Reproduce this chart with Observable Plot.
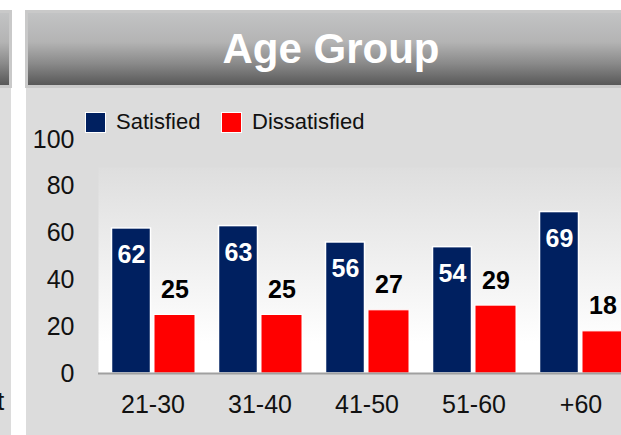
<!DOCTYPE html>
<html>
<head>
<meta charset="utf-8">
<script src="https://cdn.jsdelivr.net/npm/d3@7"></script>
<script src="https://cdn.jsdelivr.net/npm/@observablehq/plot@0.6"></script>
<style>
  html, body { margin: 0; padding: 0; background: #fff; }
  body { width: 621px; height: 435px; overflow: hidden; position: relative; font-family: "Liberation Sans", Arial, sans-serif; }
  .hdr { position: absolute; top: 10px; height: 72px; border: 3px solid #c9c9c9;
         background: linear-gradient(#c2c3c4 0%, #b4b4b4 40%, #8a8a8a 70%, #585858 100%); }
  .body { position: absolute; top: 88px; height: 347px; background: #dcdcdc; }
  #title { position: absolute; left: 25px; width: 612px; top: 13px; text-align: center;
           color: #fff; font-weight: bold; font-size: 42px; line-height: 72px; }
  #chart { position: absolute; left: 0; top: 88px; }
  .leg { position: absolute; top: 109px; font-size: 22px; line-height: 26px; color: #111; display: flex; align-items: center; z-index: 2; }
  .sw { width: 19px; height: 19px; border: 1.5px solid #fff; margin-right: 10px; }
  #lt { position: absolute; left: -3px; top: 386px; font-size: 26px; color: #111; }
</style>
</head>
<body>
<div class="hdr" style="left:-6px; width:12px;"></div>
<div class="body" style="left:0; width:11px;"></div>
<div id="lt">t</div>
<div class="hdr" style="left:25px; width:620px;"></div>
<div class="body" style="left:26px; width:595px;"></div>
<div id="title">Age Group</div>
<div id="chart"></div>
<div id="legend"></div>
<script>
const groups = ["21-30", "31-40", "41-50", "51-60", "+60"];
const satisfied = [62, 63, 56, 54, 69];
const dissatisfied = [25, 25, 27, 29, 18];
const seriesNames = ["Satisfied", "Dissatisfied"];
const seriesColors = ["#002060", "#ff0000"];
const yTicks = [0, 20, 40, 60, 80, 100];

const satData = groups.map((g, i) => ({group: g, value: satisfied[i]}));
const disData = groups.map((g, i) => ({group: g, value: dissatisfied[i]}));

const font = '"Liberation Sans", Arial, sans-serif';

const svg = Plot.plot({
  width: 621,
  height: 347,
  marginLeft: 98,
  marginRight: 0,
  marginTop: 51,
  marginBottom: 62,
  style: {background: "transparent", fontFamily: font, overflow: "hidden"},
  x: {domain: groups, range: [98, 634.5], padding: 0},
  y: {domain: [0, 100]},
  marks: [
    Plot.frame({fill: "url(#plotbg)", stroke: null, insetTop: 28}),
    Plot.axisY({ticks: yTicks, tickSize: 0, tickPadding: 24, fontSize: 25, fill: "#111", label: null}),
    Plot.axisX({tickSize: 0, tickPadding: 22, fontSize: 25, fill: "#111", label: null}),
    Plot.barY(satData, {x: "group", y: "value", fill: seriesColors[0], stroke: "#fff", strokeWidth: 1.5,
      insetLeft: 34, insetRight: 34, dx: -21.5}),
    Plot.barY(disData, {x: "group", y: "value", fill: seriesColors[1], stroke: "#fff", strokeWidth: 1,
      insetLeft: 33, insetRight: 33, dx: 22}),
    Plot.ruleY([0], {stroke: "#a0a0a0", strokeWidth: 2}),
    Plot.text(satData, {x: "group", y: "value", text: d => String(d.value), dx: -21.5, dy: 27,
      fill: "#fff", fontWeight: "bold", fontSize: 25}),
    Plot.text(disData, {x: "group", y: "value", text: d => String(d.value), dx: 22, dy: -25,
      fill: "#000", fontWeight: "bold", fontSize: 25})
  ]
});

d3.select(svg).insert("defs", ":first-child").html(
  '<linearGradient id="plotbg" x1="0" y1="0" x2="0" y2="1">' +
  '<stop offset="0" stop-color="#dedede"/>' +
  '<stop offset="0.85" stop-color="#ffffff"/>' +
  '<stop offset="1" stop-color="#ffffff"/></linearGradient>'
);
document.getElementById("chart").appendChild(svg);

const legendLeft = [85, 221];
const legend = document.getElementById("legend");
seriesNames.forEach((name, i) => {
  const item = document.createElement("div");
  item.className = "leg";
  item.style.left = legendLeft[i] + "px";
  const sw = document.createElement("div");
  sw.className = "sw";
  sw.style.background = seriesColors[i];
  item.appendChild(sw);
  item.appendChild(document.createTextNode(name));
  legend.appendChild(item);
});
</script>
</body>
</html>
